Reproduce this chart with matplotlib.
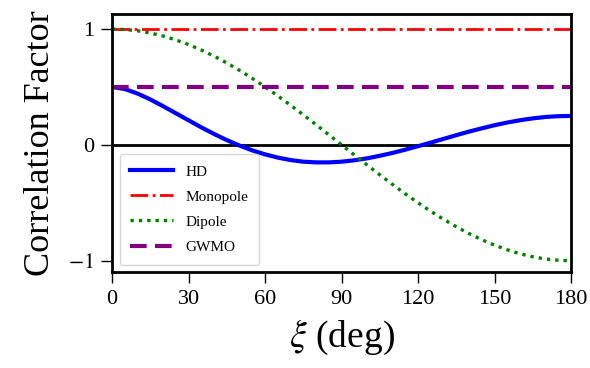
import matplotlib
matplotlib.use('Agg')
import matplotlib.pyplot as plt

plt.rcParams['font.family'] = 'serif'
plt.rcParams['font.serif'] = ['Liberation Serif', 'DejaVu Serif']
plt.rcParams['mathtext.fontset'] = 'stix'

# angular separation (deg), sampled every 5 degrees
xi = [0, 5, 10, 15, 20, 25, 30, 35, 40, 45, 50, 55, 60, 65, 70, 75, 80, 85, 90,
      95, 100, 105, 110, 115, 120, 125, 130, 135, 140, 145, 150, 155, 160, 165,
      170, 175, 180]

# values
hd = [0.500, 0.482, 0.443, 0.392, 0.334, 0.273, 0.212, 0.151, 0.094, 0.041,
      -0.006, -0.048, -0.082, -0.110, -0.131, -0.145, -0.151, -0.151, -0.145,
      -0.133, -0.116, -0.094, -0.069, -0.041, -0.011, 0.020, 0.052, 0.084,
      0.115, 0.143, 0.170, 0.193, 0.213, 0.229, 0.241, 0.248, 0.250]
dipole = [1.000, 0.996, 0.985, 0.966, 0.940, 0.906, 0.866, 0.819, 0.766, 0.707,
          0.643, 0.574, 0.500, 0.423, 0.342, 0.259, 0.174, 0.087, 0.000,
          -0.087, -0.174, -0.259, -0.342, -0.423, -0.500, -0.574, -0.643,
          -0.707, -0.766, -0.819, -0.866, -0.906, -0.940, -0.966, -0.985,
          -0.996, -1.000]
monopole = [1.0] * len(xi)
gwmo = [0.5] * len(xi)

fig, ax = plt.subplots(figsize=(5.9, 3.68), dpi=100)
fig.subplots_adjust(left=0.19, right=0.968, top=0.962, bottom=0.26)

ax.axhline(0, color='black', lw=2)
ax.plot(xi, hd, color='blue', lw=3, label='HD')
ax.plot(xi, monopole, color='red', lw=2, ls='-.', label='Monopole')
ax.plot(xi, dipole, color='green', lw=2.4, ls=(0, (1, 1.5)), label='Dipole')
ax.plot(xi, gwmo, color='purple', lw=3, ls=(0, (4, 2)), label='GWMO')

ax.set_xlim(0, 180)
ax.set_ylim(-1.1, 1.13)
ax.set_xticks([0, 30, 60, 90, 120, 150, 180])
ax.set_yticks([-1, 0, 1])
ax.set_yticklabels(['$-1$', '0', '1'])
ax.tick_params(labelsize=16, width=1, length=8, direction='out', pad=5)
for s in ax.spines.values():
    s.set_linewidth(2)

ax.set_xlabel(r'$\xi$ (deg)', fontsize=27, labelpad=6)
ax.set_ylabel('Correlation Factor', fontsize=26, labelpad=8)
ax.legend(loc='lower left', fontsize=11, handlelength=2.8, labelspacing=0.75,
          borderpad=0.7)

fig.savefig('out.png', dpi=100)
